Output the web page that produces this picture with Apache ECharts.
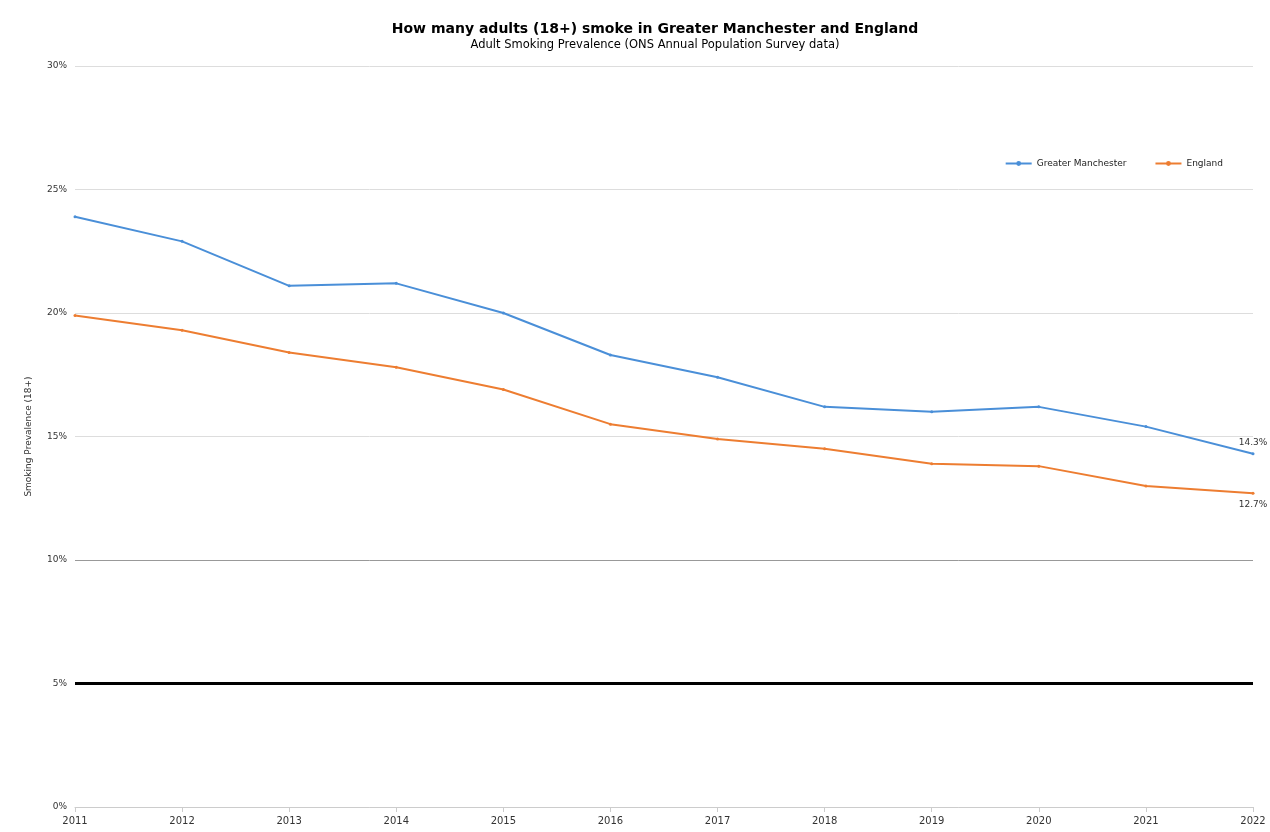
<!DOCTYPE html>
<html><head><meta charset="utf-8">
<script src="https://cdn.jsdelivr.net/npm/echarts@6/dist/echarts.min.js"></script>
<style>html,body{margin:0;padding:0;background:#fff}#c{width:1270px;height:832px}</style>
</head><body><div id="c"></div>
<script>
const years = ['2011','2012','2013','2014','2015','2016','2017','2018','2019','2020','2021','2022'];
const greaterManchester = [23.9, 22.9, 21.1, 21.2, 20.0, 18.3, 17.4, 16.2, 16.0, 16.2, 15.4, 14.3];
const england = [19.9, 19.3, 18.4, 17.8, 16.9, 15.5, 14.9, 14.5, 13.9, 13.8, 13.0, 12.7];
const targetLevel = 5;
const referenceLevel = 10;

const chart = echarts.init(document.getElementById('c'));
const endLabel = (pos) => ({
  show: true, position: pos, fontSize: 9, color: '#333', fontFamily: 'DejaVu Sans',
  formatter: p => p.dataIndex === years.length - 1 ? p.value.toFixed(1) + '%' : ''
});
chart.setOption({
  animation: false,
  textStyle: { fontFamily: 'DejaVu Sans' },
  title: {
    text: 'How many adults (18+) smoke in Greater Manchester and England',
    subtext: 'Adult Smoking Prevalence (ONS Annual Population Survey data)',
    left: 650, textAlign: 'center', top: 17, itemGap: 3,
    textStyle: { fontSize: 14, fontWeight: 'bold', color: '#000', fontFamily: 'DejaVu Sans' },
    subtextStyle: { fontSize: 11.5, color: '#000', fontFamily: 'DejaVu Sans' }
  },
  legend: {
    right: 42, top: 154, itemWidth: 26, itemHeight: 6, itemGap: 28,
    textStyle: { fontSize: 9, color: '#222' },
    data: ['Greater Manchester', 'England']
  },
  grid: { left: 75, right: 17, top: 66, bottom: 25, containLabel: false },
  xAxis: {
    type: 'category', data: years, boundaryGap: false,
    axisLine: { lineStyle: { color: '#ccc' } },
    axisTick: { show: true, lineStyle: { color: '#ccc' } },
    axisLabel: { fontSize: 10, color: '#333', margin: 9 }
  },
  yAxis: {
    type: 'value', min: 0, max: 30, interval: 5,
    name: 'Smoking Prevalence (18+)', nameLocation: 'middle', nameGap: 42,
    nameTextStyle: { fontSize: 9, color: '#333' },
    axisLabel: { fontSize: 9, color: '#333', formatter: '{value}%' },
    axisLine: { show: false }, axisTick: { show: false },
    splitLine: { lineStyle: { color: '#ddd' } }
  },
  series: [
    {
      name: 'Greater Manchester', type: 'line', data: greaterManchester,
      color: '#4a8fd8', lineStyle: { width: 2 }, symbol: 'circle', symbolSize: 3,
      label: endLabel('top'),
      markLine: {
        silent: true, symbol: 'none', label: { show: false },
        data: [
          { yAxis: targetLevel, lineStyle: { color: '#000', width: 3, type: 'solid' } },
          { yAxis: referenceLevel, lineStyle: { color: '#999', width: 1, type: 'solid' } }
        ]
      }
    },
    {
      name: 'England', type: 'line', data: england,
      color: '#ed7d31', lineStyle: { width: 2 }, symbol: 'circle', symbolSize: 3,
      label: endLabel('bottom')
    }
  ]
});
</script></body></html>
